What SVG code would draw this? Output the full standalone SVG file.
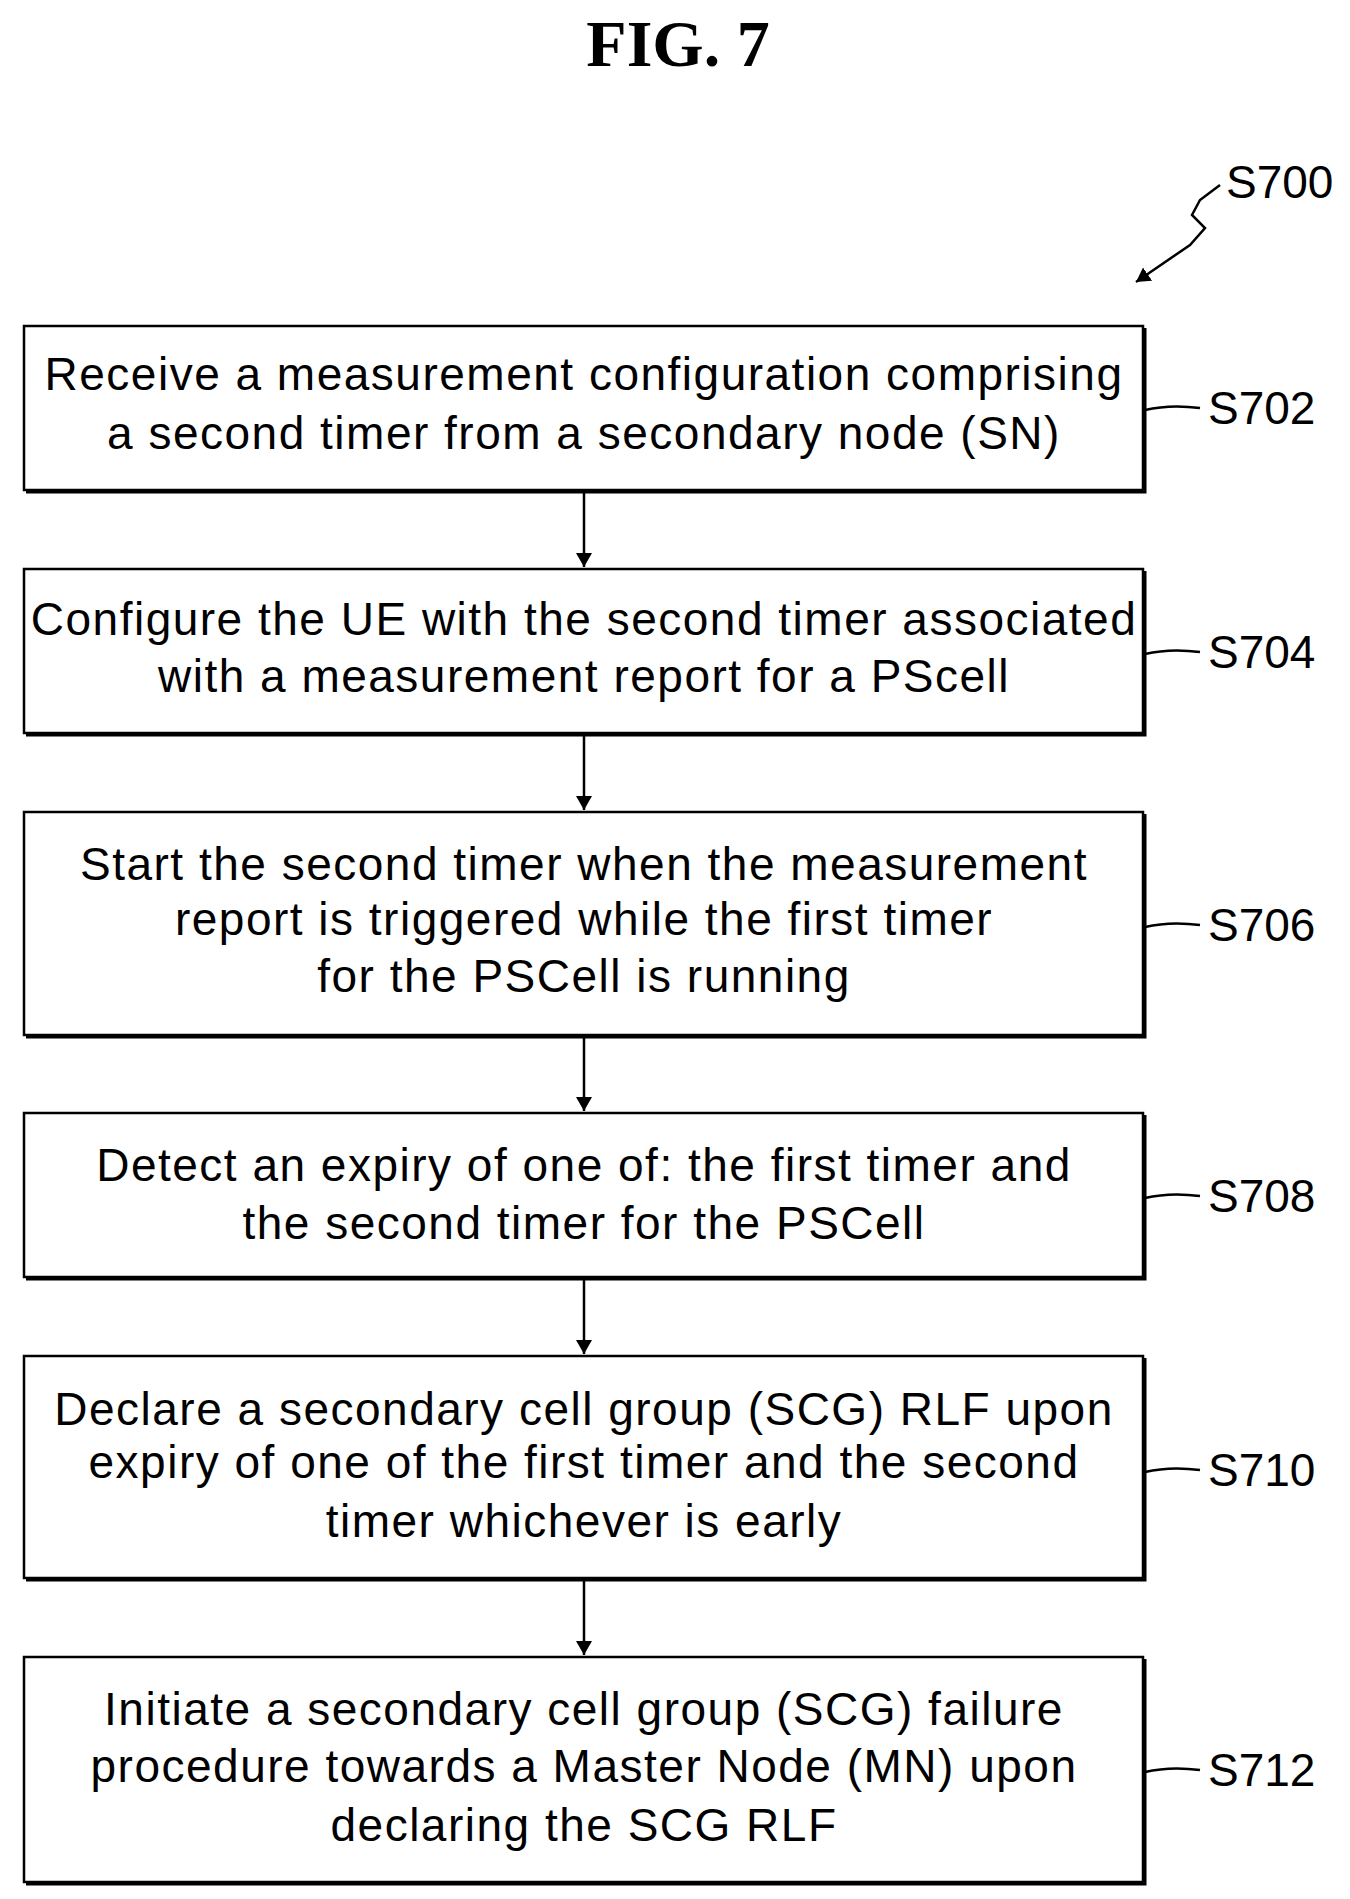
<svg xmlns="http://www.w3.org/2000/svg" width="1350" height="1899" viewBox="0 0 1350 1899">
<style>
.box{fill:#fff;stroke:#000;stroke-width:2.5}
.sh{fill:none;stroke:#000;stroke-width:3}
.t{font-family:"Liberation Sans",Arial,sans-serif;font-size:46px;letter-spacing:1.5px;text-anchor:middle;fill:#000}
.l{font-family:"Liberation Sans",Arial,sans-serif;font-size:46px;fill:#000}
.c{fill:none;stroke:#000;stroke-width:2.5}
</style>
<defs>
<marker id="b" markerWidth="14" markerHeight="16" refX="14" refY="8" orient="auto" markerUnits="userSpaceOnUse" viewBox="0 0 14 16"><path d="M0,0 L14,8 L0,16 z" fill="#000"/></marker></defs>
<rect width="1350" height="1899" fill="#fff"/>
<text x="678" y="66" style="font-family:'Liberation Serif',serif;font-size:66px;font-weight:bold" text-anchor="middle">FIG. 7</text>
<g id="s700"><text class="l" x="1226" y="198">S700</text>
<path class="c" d="M1220,185 L1200,200 L1192,215 L1205,228 L1190,245 L1136,282" marker-end="url(#b)"/></g>
<g id="connectors">
<line class="c" x1="584" y1="492" x2="584" y2="567" marker-end="url(#b)"/>
<line class="c" x1="584" y1="735" x2="584" y2="810" marker-end="url(#b)"/>
<line class="c" x1="584" y1="1037" x2="584" y2="1111" marker-end="url(#b)"/>
<line class="c" x1="584" y1="1279" x2="584" y2="1354" marker-end="url(#b)"/>
<line class="c" x1="584" y1="1580" x2="584" y2="1655" marker-end="url(#b)"/>
</g>
<g id="n702"><rect class="box" x="24" y="326" width="1119" height="164"/><path class="sh" d="M1145,328 V492 H26"/>
<text class="t" x="584" y="390">Receive a measurement configuration comprising</text><text class="t" x="584" y="449">a second timer from a secondary node (SN)</text>
<path class="c" d="M1145,410 Q1170,404 1200,408"/><text class="l" x="1208" y="424">S702</text></g>
<g id="n704"><rect class="box" x="24" y="569" width="1119" height="164"/><path class="sh" d="M1145,571 V735 H26"/>
<text class="t" x="584" y="635">Configure the UE with the second timer associated</text><text class="t" x="584" y="692">with a measurement report for a PScell</text>
<path class="c" d="M1145,654 Q1170,648 1200,652"/><text class="l" x="1208" y="668">S704</text></g>
<g id="n706"><rect class="box" x="24" y="812" width="1119" height="223"/><path class="sh" d="M1145,814 V1037 H26"/>
<text class="t" x="584" y="880">Start the second timer when the measurement</text><text class="t" x="584" y="935">report is triggered while the first timer</text><text class="t" x="584" y="992">for the PSCell is running</text>
<path class="c" d="M1145,927 Q1170,921 1200,925"/><text class="l" x="1208" y="941">S706</text></g>
<g id="n708"><rect class="box" x="24" y="1113" width="1119" height="164"/><path class="sh" d="M1145,1115 V1279 H26"/>
<text class="t" x="584" y="1181">Detect an expiry of one of: the first timer and</text><text class="t" x="584" y="1239">the second timer for the PSCell</text>
<path class="c" d="M1145,1198 Q1170,1192 1200,1196"/><text class="l" x="1208" y="1212">S708</text></g>
<g id="n710"><rect class="box" x="24" y="1356" width="1119" height="222"/><path class="sh" d="M1145,1358 V1580 H26"/>
<text class="t" x="584" y="1425">Declare a secondary cell group (SCG) RLF upon</text><text class="t" x="584" y="1478">expiry of one of the first timer and the second</text><text class="t" x="584" y="1537">timer whichever is early</text>
<path class="c" d="M1145,1472 Q1170,1466 1200,1470"/><text class="l" x="1208" y="1486">S710</text></g>
<g id="n712"><rect class="box" x="24" y="1657" width="1119" height="225"/><path class="sh" d="M1145,1659 V1884 H26"/>
<text class="t" x="584" y="1725">Initiate a secondary cell group (SCG) failure</text><text class="t" x="584" y="1782">procedure towards a Master Node (MN) upon</text><text class="t" x="584" y="1841">declaring the SCG RLF</text>
<path class="c" d="M1145,1772 Q1170,1766 1200,1770"/><text class="l" x="1208" y="1786">S712</text></g>
</svg>
